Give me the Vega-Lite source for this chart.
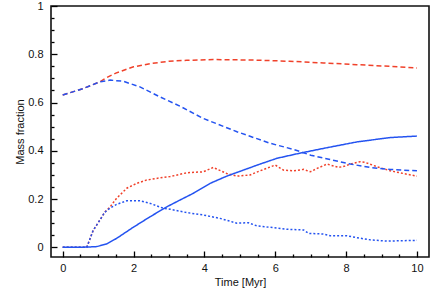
{
  "$schema": "https://vega.github.io/schema/vega-lite/v6.json",
  "autosize": "none",
  "padding": {"left": 51, "top": 6, "right": 7, "bottom": 51},
  "width": 378,
  "height": 251,
  "config": {
    "font": "Liberation Sans",
    "view": {"stroke": "#111", "strokeWidth": 1.6},
    "axis": {
      "domain": false,
      "grid": false,
      "ticks": true,
      "zindex": 1,
      "labelFontSize": 11,
      "labelColor": "#111",
      "titleFontSize": 11,
      "titleFontWeight": "normal",
      "titleColor": "#111",
      "tickColor": "#000",
      "tickOpacity": 1,
      "tickWidth": 1.3
    }
  },
  "data": {
    "values": [
      {"s": "rd", "t": 0, "v": 0.631}, {"s": "rd", "t": 0.58, "v": 0.658}, {"s": "rd", "t": 1.05, "v": 0.686}, {"s": "rd", "t": 1.25, "v": 0.704}, {"s": "rd", "t": 1.5, "v": 0.722}, {"s": "rd", "t": 2.0, "v": 0.748}, {"s": "rd", "t": 2.5, "v": 0.762}, {"s": "rd", "t": 3.0, "v": 0.771}, {"s": "rd", "t": 3.5, "v": 0.775}, {"s": "rd", "t": 4.25, "v": 0.778}, {"s": "rd", "t": 5.4, "v": 0.776}, {"s": "rd", "t": 6.4, "v": 0.771}, {"s": "rd", "t": 7.36, "v": 0.764}, {"s": "rd", "t": 8.3, "v": 0.757}, {"s": "rd", "t": 9.25, "v": 0.75}, {"s": "rd", "t": 10, "v": 0.743},

      {"s": "rdo", "t": 0, "v": 0}, {"s": "rdo", "t": 0.68, "v": 0}, {"s": "rdo", "t": 0.86, "v": 0.07}, {"s": "rdo", "t": 1.05, "v": 0.113}, {"s": "rdo", "t": 1.19, "v": 0.146}, {"s": "rdo", "t": 1.34, "v": 0.168}, {"s": "rdo", "t": 1.52, "v": 0.203}, {"s": "rdo", "t": 1.81, "v": 0.245}, {"s": "rdo", "t": 2.09, "v": 0.265}, {"s": "rdo", "t": 2.37, "v": 0.279}, {"s": "rdo", "t": 2.84, "v": 0.29}, {"s": "rdo", "t": 3.03, "v": 0.293}, {"s": "rdo", "t": 3.5, "v": 0.309}, {"s": "rdo", "t": 3.97, "v": 0.313}, {"s": "rdo", "t": 4.25, "v": 0.331}, {"s": "rdo", "t": 4.63, "v": 0.306}, {"s": "rdo", "t": 4.92, "v": 0.295}, {"s": "rdo", "t": 5.29, "v": 0.3}, {"s": "rdo", "t": 5.57, "v": 0.317}, {"s": "rdo", "t": 6.0, "v": 0.341}, {"s": "rdo", "t": 6.23, "v": 0.32}, {"s": "rdo", "t": 6.51, "v": 0.317}, {"s": "rdo", "t": 6.8, "v": 0.323}, {"s": "rdo", "t": 6.99, "v": 0.313}, {"s": "rdo", "t": 7.18, "v": 0.327}, {"s": "rdo", "t": 7.46, "v": 0.345}, {"s": "rdo", "t": 7.79, "v": 0.331}, {"s": "rdo", "t": 7.97, "v": 0.337}, {"s": "rdo", "t": 8.12, "v": 0.345}, {"s": "rdo", "t": 8.4, "v": 0.355}, {"s": "rdo", "t": 8.54, "v": 0.352}, {"s": "rdo", "t": 8.87, "v": 0.334}, {"s": "rdo", "t": 9.25, "v": 0.317}, {"s": "rdo", "t": 9.62, "v": 0.306}, {"s": "rdo", "t": 10, "v": 0.295},

      {"s": "bd", "t": 0, "v": 0.631}, {"s": "bd", "t": 0.58, "v": 0.658}, {"s": "bd", "t": 1.05, "v": 0.686}, {"s": "bd", "t": 1.34, "v": 0.693}, {"s": "bd", "t": 1.71, "v": 0.688}, {"s": "bd", "t": 2.18, "v": 0.665}, {"s": "bd", "t": 2.75, "v": 0.623}, {"s": "bd", "t": 3.31, "v": 0.585}, {"s": "bd", "t": 3.97, "v": 0.534}, {"s": "bd", "t": 4.92, "v": 0.479}, {"s": "bd", "t": 5.86, "v": 0.431}, {"s": "bd", "t": 6.51, "v": 0.406}, {"s": "bd", "t": 7.0, "v": 0.382}, {"s": "bd", "t": 7.55, "v": 0.364}, {"s": "bd", "t": 8.12, "v": 0.345}, {"s": "bd", "t": 8.68, "v": 0.331}, {"s": "bd", "t": 9.25, "v": 0.323}, {"s": "bd", "t": 10, "v": 0.317},

      {"s": "bdo", "t": 0, "v": 0}, {"s": "bdo", "t": 0.68, "v": 0}, {"s": "bdo", "t": 0.86, "v": 0.07}, {"s": "bdo", "t": 1.05, "v": 0.113}, {"s": "bdo", "t": 1.19, "v": 0.146}, {"s": "bdo", "t": 1.34, "v": 0.163}, {"s": "bdo", "t": 1.52, "v": 0.178}, {"s": "bdo", "t": 1.81, "v": 0.193}, {"s": "bdo", "t": 2.18, "v": 0.193}, {"s": "bdo", "t": 2.47, "v": 0.182}, {"s": "bdo", "t": 2.84, "v": 0.162}, {"s": "bdo", "t": 3.03, "v": 0.158}, {"s": "bdo", "t": 3.5, "v": 0.144}, {"s": "bdo", "t": 3.97, "v": 0.134}, {"s": "bdo", "t": 4.44, "v": 0.12}, {"s": "bdo", "t": 4.92, "v": 0.1}, {"s": "bdo", "t": 5.24, "v": 0.102}, {"s": "bdo", "t": 5.48, "v": 0.089}, {"s": "bdo", "t": 5.86, "v": 0.083}, {"s": "bdo", "t": 6.33, "v": 0.075}, {"s": "bdo", "t": 6.8, "v": 0.072}, {"s": "bdo", "t": 6.94, "v": 0.058}, {"s": "bdo", "t": 7.36, "v": 0.055}, {"s": "bdo", "t": 7.55, "v": 0.048}, {"s": "bdo", "t": 8.02, "v": 0.048}, {"s": "bdo", "t": 8.31, "v": 0.04}, {"s": "bdo", "t": 8.68, "v": 0.031}, {"s": "bdo", "t": 9.15, "v": 0.026}, {"s": "bdo", "t": 10, "v": 0.029},

      {"s": "bs", "t": 0, "v": 0}, {"s": "bs", "t": 0.5, "v": 0}, {"s": "bs", "t": 0.96, "v": 0.003}, {"s": "bs", "t": 1.24, "v": 0.014}, {"s": "bs", "t": 1.52, "v": 0.037}, {"s": "bs", "t": 1.99, "v": 0.083}, {"s": "bs", "t": 2.47, "v": 0.127}, {"s": "bs", "t": 2.94, "v": 0.168}, {"s": "bs", "t": 3.31, "v": 0.196}, {"s": "bs", "t": 3.69, "v": 0.224}, {"s": "bs", "t": 4.16, "v": 0.265}, {"s": "bs", "t": 4.63, "v": 0.295}, {"s": "bs", "t": 5.1, "v": 0.32}, {"s": "bs", "t": 5.57, "v": 0.345}, {"s": "bs", "t": 6.05, "v": 0.369}, {"s": "bs", "t": 6.66, "v": 0.389}, {"s": "bs", "t": 7.36, "v": 0.41}, {"s": "bs", "t": 8.31, "v": 0.437}, {"s": "bs", "t": 9.25, "v": 0.455}, {"s": "bs", "t": 10, "v": 0.461}
    ]
  },
  "resolve": {"axis": {"x": "independent", "y": "independent"}},
  "layer": [
    {
      "mark": {"type": "line", "strokeWidth": 1.5, "clip": true},
      "encoding": {
        "x": {
          "field": "t", "type": "quantitative",
          "scale": {"domain": [-0.33, 10.34], "nice": false, "zero": false},
          "axis": {
            "orient": "bottom",
            "title": "Time [Myr]",
            "values": [0, 2, 4, 6, 8, 10],
            "ticks": true,
            "offset": -6,
            "tickSize": 6,
            "labelPadding": 5,
            "titlePadding": 3
          }
        },
        "y": {
          "field": "v", "type": "quantitative",
          "scale": {"domain": [-0.04, 1], "nice": false, "zero": false},
          "axis": {
            "orient": "left",
            "title": "Mass fraction",
            "values": [0, 0.2, 0.4, 0.6, 0.8, 1],
            "labelExpr": "format(datum.value, '~g')",
            "ticks": true,
            "offset": -6,
            "tickSize": 6,
            "labelPadding": 8,
            "titlePadding": 2
          }
        },
        "color": {
          "field": "s", "type": "nominal", "legend": null,
          "scale": {"domain": ["rd", "rdo", "bd", "bdo", "bs"], "range": ["#f0412a", "#f0412a", "#2453f0", "#2453f0", "#2453f0"]}
        },
        "strokeDash": {
          "field": "s", "type": "nominal", "legend": null,
          "scale": {"domain": ["rd", "rdo", "bd", "bdo", "bs"], "range": [[5, 3], [2, 2], [5, 3], [2, 2], [1, 0]]}
        },
        "order": {"field": "t", "type": "quantitative"}
      }
    },
    {
      "mark": {"type": "point", "opacity": 0, "size": 1},
      "encoding": {
        "x": {
          "field": "t", "type": "quantitative",
          "axis": {
            "orient": "bottom",
            "title": null,
            "labels": false,
            "ticks": true,
            "values": [0.5, 1, 1.5, 2.5, 3, 3.5, 4.5, 5, 5.5, 6.5, 7, 7.5, 8.5, 9, 9.5],
            "offset": -3,
            "tickSize": 3
          }
        },
        "y": {
          "field": "v", "type": "quantitative",
          "axis": {
            "orient": "left",
            "title": null,
            "labels": false,
            "ticks": true,
            "values": [0.05, 0.1, 0.15, 0.25, 0.3, 0.35, 0.45, 0.5, 0.55, 0.65, 0.7, 0.75, 0.85, 0.9, 0.95],
            "offset": -3,
            "tickSize": 3
          }
        }
      }
    }
  ]
}
